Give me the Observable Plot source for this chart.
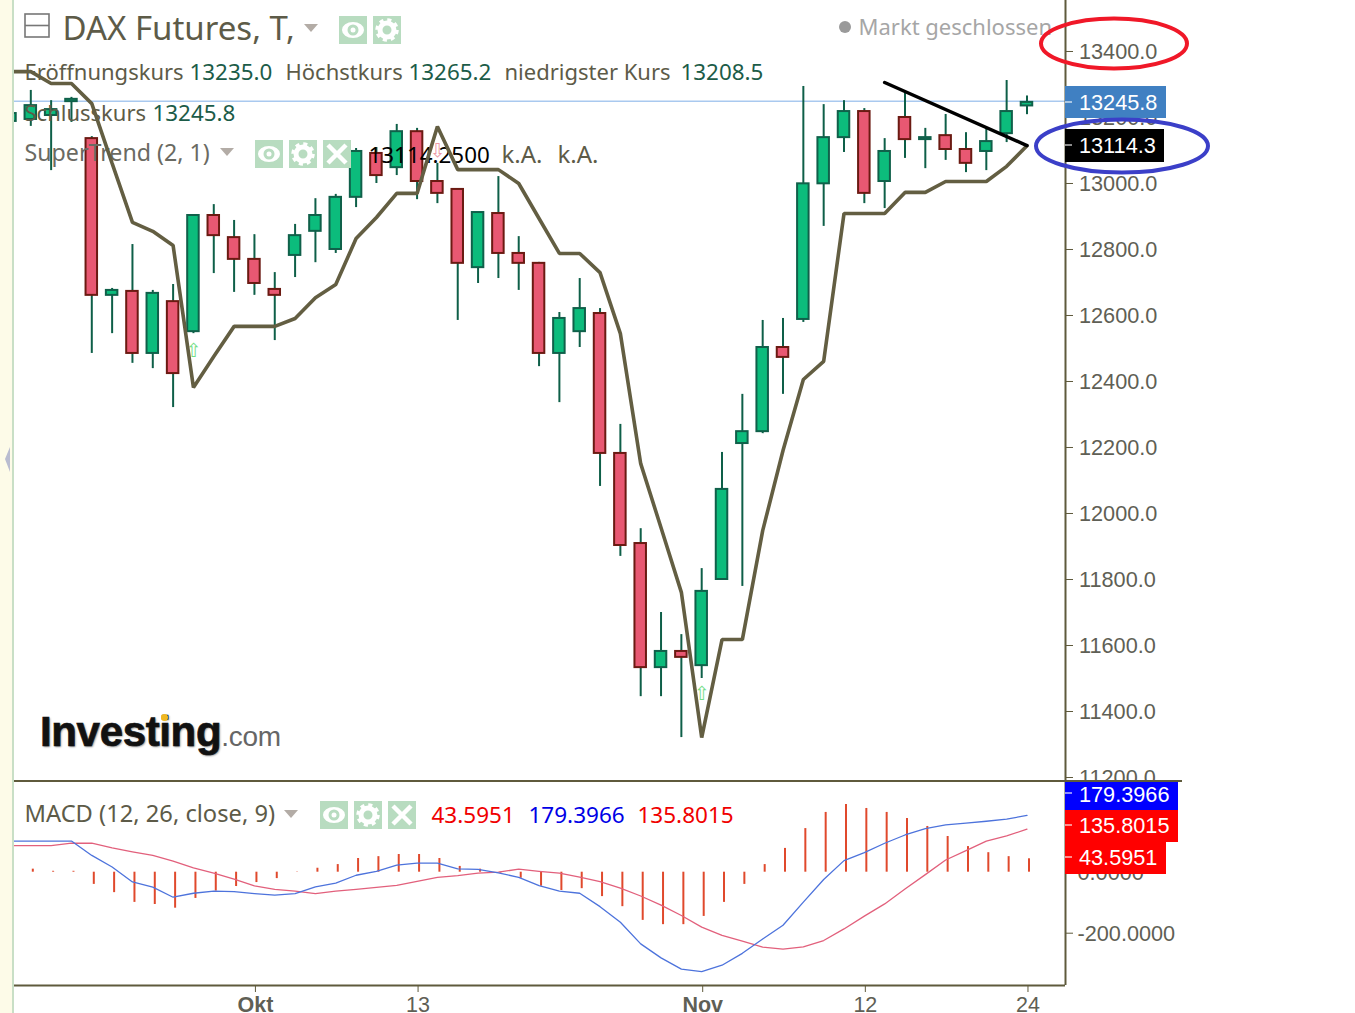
<!DOCTYPE html>
<html><head><meta charset="utf-8">
<script src="https://cdn.jsdelivr.net/npm/d3@7"></script>
<script src="https://cdn.jsdelivr.net/npm/@observablehq/plot@0.6"></script>
<style>
html,body{margin:0;padding:0;background:#fff;overflow:hidden}
#page{position:relative;width:1355px;height:1013px;overflow:hidden;background:#fff}
#page>svg,#page>div{position:absolute}
</style></head><body><div id="page"></div>
<script>
const days = d3.range(-1, 50);
const opens = [13188,13194,13206,13248,13136,12661,12673,12485,12642,12551,12903,12836,12770,12679,12782,12855,12800,12958,13091,13048,13157,13006,12982,12745,12909,12788,12758,12485,12551,12606,12182,11909,11533,11582,11539,11800,12212,12248,12503,12588,12999,13139,13218,13006,13200,13133,13145,13103,13097,13151,13235.0];
const highs = [13221,13282,13251,13261,13142,12682,12815,12676,12694,12903,12936,12888,12845,12730,12876,12954,12967,13106,13109,13179,13167,13061,12982,12912,13021,12839,12761,12609,12712,12621,12270,11954,11700,11633,11833,12185,12361,12585,12591,13294,13239,13251,13227,13136,13273,13167,13209,13154,13167,13312,13265.2];
const lows = [13176,13173,13039,13185,12485,12545,12455,12439,12321,12545,12727,12670,12661,12524,12715,12760,12788,12927,13000,13024,12951,12939,12585,12697,12712,12676,12445,12336,12503,12082,11870,11445,11445,11321,11500,11800,11779,12242,12361,12579,12870,13094,12939,12924,13076,13045,13070,13033,13039,13124,13208.5];
const closes = [13212,13236,13224,13255,12661,12676,12485,12667,12424,12903,12842,12770,12697,12661,12842,12903,12958,13097,13024,13157,13006,12970,12758,12912,12788,12758,12485,12591,12621,12182,11903,11533,11582,11564,11764,12073,12248,12503,12473,12999,13139,13218,12970,13097,13133,13139,13103,13061,13127,13218,13245.8];
const superTrend = [13339,13339,13303,13303,13242,13061,12882,12855,12812,12382,12476,12567,12567,12567,12591,12654,12694,12833,12897,12970,12970,13173,13042,13042,13042,13000,12894,12788,12788,12730,12545,12151,11957,11761,11321,11618,11618,11948,12191,12406,12461,12909,12909,12909,12973,12973,13006,13006,13006,13052,13114.3];
const trendDays = [42, 49];
const trendPrices = [13306, 13115];
const priceTicks = [11200,11400,11600,11800,12000,12200,12400,12600,12800,13000,13200,13400];
const arrowDays = [8, 33, 20];
const arrowPrices = [12494, 11454, 13100];
const arrowGlyphs = ["⇧", "⇧", "⇩"];
const arrowColors = ["#74dd86", "#74dd86", "#ee9aa5"];

const macdLine = [102,102,102,102,55,17,-32,-49,-82,-69,-62,-64,-70,-75,-70,-48,-36,-10,3,23,30,30,11,9,-2,-17,-44,-62,-69,-113,-164,-235,-281,-318,-326,-305,-266,-219,-174,-98,-24,38,64,95,122,143,155,161,167,174,186];
const signalLine = [87,87,87,95,95,80,67,55,36,14,-3,-23,-45,-56,-62,-70,-62,-56,-50,-43,-30,-17,-11,-3,0,10,3,-3,-16,-31,-52,-78,-108,-142,-180,-207,-226,-246,-252,-245,-224,-186,-144,-104,-55,-8,40,71,102,119,141];
const histogram = [0,10,3,3,-40,-67,-99,-106,-118,-86,-62,-47,-34,-21,-1,13,25,45,51,58,58,45,19,10,-3,-20,-46,-60,-54,-80,-113,-158,-172,-172,-145,-99,-40,25,78,143,196,222,209,196,176,150,117,84,64,51,44];
const macdTicks = [0, -200];
const timeTickDays = [11, 19, 33, 41, 49];
const timeTickLabels = ["Okt", "13", "Nov", "12", "24"];
const lastClose = 13245.8, lastTrend = 13114.3;

const INK = "#5f5a3c", TXT = "#5d5b48", NUM = "#1c5c48";
const UI = "'Noto Sans', sans-serif", AX = "'Liberation Sans', Arial, sans-serif";
const page = document.getElementById("page");

const candles = days.map((d, i) => ({d, o: opens[i], h: highs[i], l: lows[i], c: closes[i], up: closes[i] >= opens[i]}));
const xDomain = [-0.802, 50.895], xRange = [14, 1065];
const lab = (t, x, y, size, fill, extra = {}) => Plot.text([t], {text: d => d, frameAnchor: "top-left", dx: x - 14, dy: y, textAnchor: "start", lineAnchor: "middle", fontFamily: UI, fontSize: size, fill, ...extra});

const main = Plot.plot({
  width: 1355, height: 781, marginLeft: 14, marginRight: 290, marginTop: 0, marginBottom: 0,
  style: {background: "transparent", overflow: "visible"},
  x: {domain: xDomain, range: xRange, axis: null},
  y: {domain: [13554.5, 11187.9], range: [0, 781], axis: null},
  marks: [
    Plot.ruleY([lastClose], {stroke: "#a9c9ef", strokeWidth: 1.5, dy: -1, clip: true}),
    Plot.ruleX(candles, {x: "d", y1: "l", y2: "h", stroke: "#0e5f48", strokeWidth: 2, clip: true}),
    Plot.rect(candles, {x1: d => d.d - 0.283, x2: d => d.d + 0.283, y1: "o", y2: "c",
      fill: d => d.up ? "#0cbc7c" : "#e85872", stroke: d => d.up ? "#10604a" : "#6b1a12", strokeWidth: 2, clip: true}),
    Plot.text(arrowDays.map((d, i) => i), {x: i => arrowDays[i], y: i => arrowPrices[i], text: i => arrowGlyphs[i], fill: i => arrowColors[i], fontSize: 19, fontFamily: "DejaVu Sans"}),
    lab("DAX Futures, T,", 62, 29, 33, TXT),
    lab("Eröffnungskurs", 24, 72, 22, TXT), lab("13235.0", 189, 72, 22.4, NUM),
    lab("Höchstkurs", 285, 72, 22, TXT), lab("13265.2", 408, 72, 22.4, NUM),
    lab("niedrigster Kurs", 504, 72, 22, TXT), lab("13208.5", 680, 72, 22.4, NUM),
    lab("Schlusskurs", 24, 113, 22, TXT), lab("13245.8", 152, 113, 22.4, NUM),
    lab("SuperTrend (2, 1)", 24, 153, 23.2, "#6a6a62"),
    lab("13114.2500", 368, 155, 22.4, "#000"),
    lab("k.A.", 501, 155, 24, TXT), lab("k.A.", 557, 155, 24, TXT),
    lab("Markt geschlossen", 858, 27, 22, "#a6a6a6"),
    Plot.line(days.map((d, i) => i), {x: i => days[i], y: i => superTrend[i], stroke: "#635e42", strokeWidth: 3.6, strokeLinejoin: "miter", clip: true}),
    Plot.line(trendDays.map((d, i) => i), {x: i => trendDays[i], y: i => trendPrices[i], stroke: "#000", strokeWidth: 3.5}),
    Plot.ruleX([xDomain[1]], {stroke: INK, strokeWidth: 2}),
    Plot.axisY({anchor: "right", ticks: priceTicks, tickFormat: d => d.toFixed(1), tickSize: 7, tickPadding: 6.5, label: null, fontSize: 21.7, fontFamily: AX, fill: "#5f5f55", stroke: INK}),
  ]
});
main.style.left = "0"; main.style.top = "0";
page.append(main);

const macdChart = Plot.plot({
  width: 1355, height: 232, marginLeft: 14, marginRight: 290, marginTop: 0, marginBottom: 28,
  style: {background: "#fff", overflow: "visible"},
  x: {domain: xDomain, range: xRange, axis: null},
  y: {domain: [297.4, -371.5], range: [0, 204], axis: null},
  marks: [
    Plot.ruleX(days.map((d, i) => i).filter(i => i > 0), {x: i => days[i], y1: () => 0, y2: i => histogram[i], dx: 2, stroke: "#e0492c", strokeWidth: 2}),
    Plot.line(days.map((d, i) => i), {x: i => days[i], y: i => signalLine[i], stroke: "#e2607c", strokeWidth: 1.3, clip: true}),
    Plot.line(days.map((d, i) => i), {x: i => days[i], y: i => macdLine[i], stroke: "#4d73dc", strokeWidth: 1.3, clip: true}),
    lab("MACD (12, 26, close, 9)", 24, 33, 23.7, TXT),
    lab("43.5951", 431, 34, 22.5, "#f00000"),
    lab("179.3966", 528, 34, 22.5, "#0000e6"),
    lab("135.8015", 637, 34, 22.5, "#f00000"),
    Plot.ruleX([xDomain[1]], {stroke: INK, strokeWidth: 2}),
    Plot.ruleY([-371.5], {stroke: INK, strokeWidth: 2}),
    Plot.axisY({anchor: "right", ticks: macdTicks, tickFormat: d => d.toFixed(4), tickSize: 7, tickPadding: 5, label: null, fontSize: 21.7, fontFamily: AX, fill: "#5f5f55", stroke: INK}),
    Plot.axisX({anchor: "bottom", ticks: timeTickDays, tickFormat: d => timeTickLabels[timeTickDays.indexOf(d)], tickSize: 7, tickPadding: 4, label: null, fontSize: 21.5, fontFamily: AX, fill: "#5f5f55", stroke: INK, dx: 1})
  ]
});
macdChart.style.left = "0"; macdChart.style.top = "781px";
page.append(macdChart);
macdChart.querySelectorAll("text").forEach(t => { if (t.textContent === "Okt" || t.textContent === "Nov") t.setAttribute("font-weight", "bold"); });
// the reference's axis labels sit 1px under their ticks
[main, macdChart].forEach(c => c.querySelectorAll("g[aria-label='y-axis tick label'] text").forEach(t => t.setAttribute("dy", "1")));

const yMain = main.scale("y");
const ov = [];
const box = (x, y, w, h, css = "", html = "") => ov.push(`<div style="position:absolute;left:${x}px;top:${y}px;width:${w}px;height:${h}px;${css}">${html}</div>`);
const tag = (x2, y1, y2, bg, t, tickY, lift = 0) => {
  box(1065, y1, x2 - 1065, y2 - y1, `background:${bg};color:#fff;font:21.7px ${AX};line-height:${y2 - y1 + 2 - lift}px;text-indent:14px;white-space:nowrap`, t);
  box(1065, tickY, 7, 2, "background:rgba(255,255,255,.55)");
};

box(0, 0, 12, 1013, "background:#fdfbe8");
box(12, 0, 2, 1013, "background:#c9dfc6");
box(14, 780, 1168, 2, `background:${INK}`);
const yClose = Math.round(yMain.apply(lastClose)), yTrend = Math.round(yMain.apply(lastTrend));
tag(1166, yClose - 16, yClose + 16, "#4080c2", lastClose.toFixed(1), yClose - 1);
tag(1164, yTrend - 16, yTrend + 17, "#000", lastTrend.toFixed(1), yTrend - 1, 2);
tag(1178, 782, 810, "#0000ff", "179.3966", 792, 4);
tag(1178, 810, 842, "#ff0000", "135.8015", 824, 2);
tag(1166, 842, 874, "#ff0000", "43.5951", 856, 2);
box(845 - 6, 21, 12, 12, "background:#9a9a9a;border-radius:50%");
box(40, 707, 250, 50, `color:#111;font:bold 42px/50px ${AX};letter-spacing:-.35px;-webkit-text-stroke:.7px #111;text-shadow:1px 1px 2px #888;white-space:nowrap`,
  `Investing<span style="color:#666;font-weight:normal;font-size:28px;letter-spacing:-.3px;-webkit-text-stroke:0;text-shadow:none">.com</span>`);
box(160.5, 713.5, 7, 7, "background:#f0b820;border-radius:50%");
page.insertAdjacentHTML("beforeend", ov.join(""));

const icon = (x, y, kind) => {
  const g = kind === "eye" ? `<ellipse cx="14" cy="14" rx="11" ry="8" fill="#fff"/><circle cx="14" cy="14" r="5.5" fill="#b8dcc0"/><circle cx="14" cy="14" r="2.5" fill="#fff"/>`
    : kind === "gear" ? `<circle cx="14" cy="14" r="7" fill="none" stroke="#fff" stroke-width="5"/><circle cx="14" cy="14" r="10" fill="none" stroke="#fff" stroke-width="3.5" stroke-dasharray="4 3.85"/>`
    : `<path d="M5 5L23 23M23 5L5 23" stroke="#fff" stroke-width="4.5"/>`;
  return `<svg style="position:absolute;left:${x}px;top:${y}px" width="28" height="28"><rect width="28" height="28" fill="#b8dcc0"/>${g}</svg>`;
};
const tri = (x, y) => `<svg style="position:absolute;left:${x}px;top:${y}px" width="14" height="8"><path d="M0 0H14L7 8Z" fill="#b3aca6"/></svg>`;
page.insertAdjacentHTML("beforeend",
  icon(339,16,"eye") + icon(373,16,"gear") +
  icon(255,140,"eye") + icon(289,140,"gear") + icon(323,140,"x") +
  icon(320,801,"eye") + icon(354,801,"gear") + icon(388,801,"x") +
  tri(304,24) + tri(220,148) + tri(284,810) +
  `<svg style="position:absolute;left:24px;top:13px" width="27" height="26"><rect x="1" y="1" width="24" height="23" fill="none" stroke="#777" stroke-width="1.6"/><path d="M1 12.5H25" stroke="#777" stroke-width="1.6"/></svg>` +
  `<svg style="position:absolute;left:0;top:0" width="1355" height="1013" pointer-events="none">
    <path d="M10 447L5 459L10 472Z" fill="#b9bcd0"/>
    <ellipse cx="1114" cy="43.5" rx="73" ry="25" fill="none" stroke="#f01828" stroke-width="4"/>
    <ellipse cx="1122" cy="146" rx="86" ry="26.5" fill="none" stroke="#3b3fc8" stroke-width="4"/>
  </svg>`);
</script></body></html>
